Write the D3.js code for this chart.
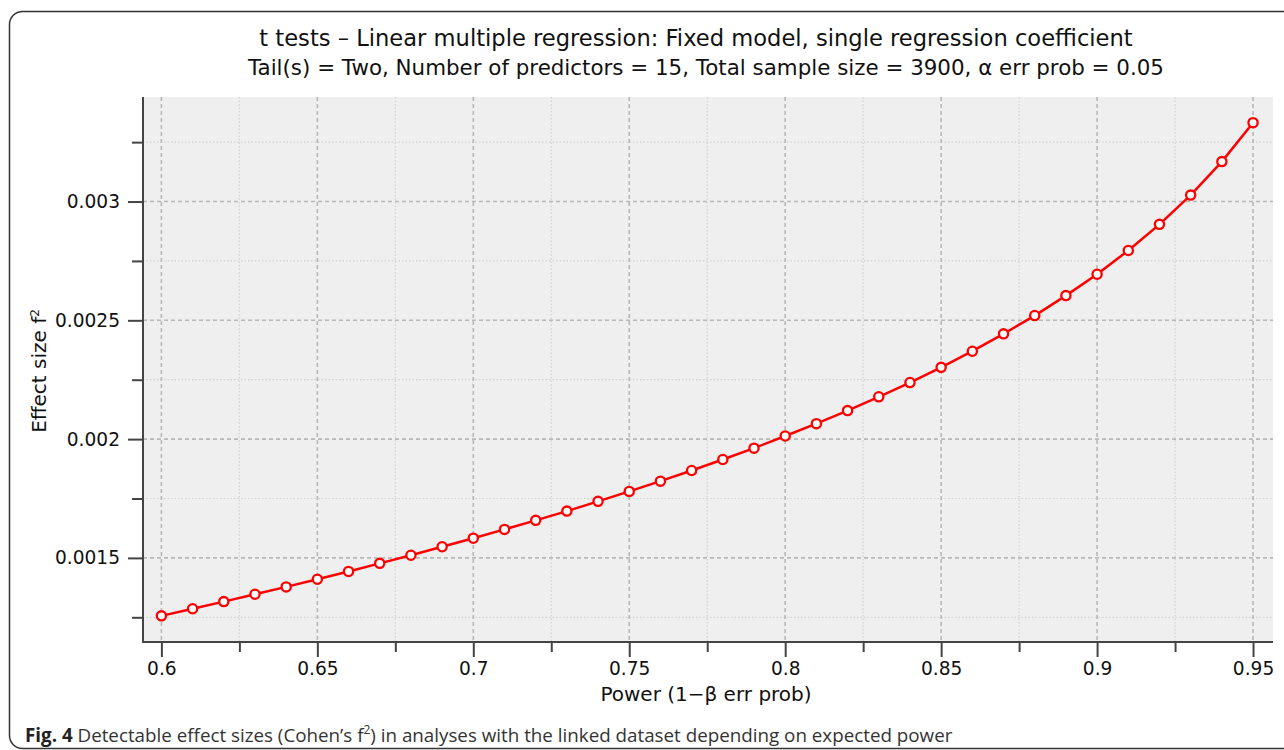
<!DOCTYPE html>
<html>
<head>
<meta charset="utf-8">
<script src="https://cdn.jsdelivr.net/npm/d3@7"></script>
<style>
  body { margin: 0; background: #fff; }
  svg { display: block; }
</style>
</head>
<body>
<svg id="chart" width="1284" height="750"></svg>
<script>
// Power values (x) and the detectable effect size f2 (y).
const power = [0.60, 0.61, 0.62, 0.63, 0.64, 0.65, 0.66, 0.67, 0.68, 0.69,
  0.70, 0.71, 0.72, 0.73, 0.74, 0.75, 0.76, 0.77, 0.78, 0.79,
  0.80, 0.81, 0.82, 0.83, 0.84, 0.85, 0.86, 0.87, 0.88, 0.89,
  0.90, 0.91, 0.92, 0.93, 0.94, 0.95];
const effectSize = [0.001256, 0.001286, 0.001316, 0.001347, 0.001378, 0.001410,
  0.001443, 0.001477, 0.001511, 0.001547, 0.001583, 0.001620, 0.001658,
  0.001697, 0.001738, 0.001780, 0.001823, 0.001868, 0.001914, 0.001962,
  0.002013, 0.002065, 0.002120, 0.002178, 0.002238, 0.002302, 0.002370,
  0.002443, 0.002520, 0.002604, 0.002694, 0.002794, 0.002904, 0.003027,
  0.003168, 0.003332];

// Axis ticks.
const xTicks = [0.6, 0.65, 0.7, 0.75, 0.8, 0.85, 0.9, 0.95];
const xTickLabels = ["0.6", "0.65", "0.7", "0.75", "0.8", "0.85", "0.9", "0.95"];
const xMinorTicks = [0.625, 0.675, 0.725, 0.775, 0.825, 0.875, 0.925];
const yTicks = [0.0015, 0.002, 0.0025, 0.003];
const yTickLabels = ["0.0015", "0.002", "0.0025", "0.003"];
const yMinorTicks = [0.00125, 0.00175, 0.00225, 0.00275, 0.00325];

const titleText = "t tests \u2013 Linear multiple regression: Fixed model, single regression coefficient";
const subtitleText = "Tail(s) = Two, Number of predictors = 15, Total sample size = 3900, \u03b1 err prob = 0.05";

(function () {
  const svg = d3.select("#chart");
  const chartFont = "'DejaVu Sans', Verdana, sans-serif";

  // Plot area.
  const left = 143, right = 1273, top = 97, bottom = 642;

  const x = d3.scaleLinear().domain([0.5941, 0.9564]).range([left, right]);
  const y = d3.scaleLinear().domain([0.001146, 0.003440]).range([bottom, top]);

  // Outer frame of the figure.
  svg.append("rect")
    .attr("x", 9.5).attr("y", 11.5)
    .attr("width", 1300).attr("height", 737)
    .attr("rx", 13)
    .attr("fill", "none")
    .attr("stroke", "#333")
    .attr("stroke-width", 1.5);

  // Titles.
  svg.append("text")
    .attr("x", 696).attr("y", 46)
    .attr("text-anchor", "middle")
    .style("font-family", chartFont)
    .style("font-size", "22.6px")
    .attr("fill", "#111")
    .text(titleText);

  svg.append("text")
    .attr("x", 706).attr("y", 75)
    .attr("text-anchor", "middle")
    .style("font-family", chartFont)
    .style("font-size", "21.4px")
    .attr("fill", "#111")
    .text(subtitleText);

  // Background.
  svg.append("rect")
    .attr("x", left).attr("y", top)
    .attr("width", right - left).attr("height", bottom - top)
    .attr("fill", "#efefef");

  // Grid lines: minor dotted, major dashed.
  const grid = svg.append("g");
  grid.selectAll(".vminor").data(xMinorTicks).enter().append("line")
    .attr("x1", (d) => x(d)).attr("x2", (d) => x(d))
    .attr("y1", top).attr("y2", bottom)
    .attr("stroke", "#d2d2d2").attr("stroke-width", 1.2)
    .attr("stroke-dasharray", "1.5,2");
  grid.selectAll(".hminor").data(yMinorTicks).enter().append("line")
    .attr("x1", left).attr("x2", right)
    .attr("y1", (d) => y(d)).attr("y2", (d) => y(d))
    .attr("stroke", "#d2d2d2").attr("stroke-width", 1.2)
    .attr("stroke-dasharray", "1.5,2");
  grid.selectAll(".vmajor").data(xTicks).enter().append("line")
    .attr("x1", (d) => x(d)).attr("x2", (d) => x(d))
    .attr("y1", top).attr("y2", bottom)
    .attr("stroke", "#b8b8b8").attr("stroke-width", 1.6)
    .attr("stroke-dasharray", "4,3");
  grid.selectAll(".hmajor").data(yTicks).enter().append("line")
    .attr("x1", left).attr("x2", right)
    .attr("y1", (d) => y(d)).attr("y2", (d) => y(d))
    .attr("stroke", "#b8b8b8").attr("stroke-width", 1.6)
    .attr("stroke-dasharray", "4,3");

  // Axes.
  const xAxis = d3.axisBottom(x)
    .tickValues(xTicks)
    .tickSize(15)
    .tickPadding(5)
    .tickFormat((d, i) => xTickLabels[i]);
  const xMinorAxis = d3.axisBottom(x)
    .tickValues(xMinorTicks)
    .tickSize(10)
    .tickFormat("");
  const yAxis = d3.axisLeft(y)
    .tickValues(yTicks)
    .tickSize(15)
    .tickPadding(8)
    .tickFormat((d, i) => yTickLabels[i]);
  const yMinorAxis = d3.axisLeft(y)
    .tickValues(yMinorTicks)
    .tickSize(11)
    .tickFormat("");

  function styleAxis(g) {
    g.select(".domain").remove();
    g.selectAll(".tick line").attr("stroke", "#444").attr("stroke-width", 2);
    g.selectAll(".tick text")
      .attr("fill", "#111")
      .style("font-family", chartFont)
      .style("font-size", "18.6px");
  }

  svg.append("g").attr("transform", `translate(0,${bottom})`).call(xMinorAxis).call(styleAxis);
  svg.append("g").attr("transform", `translate(0,${bottom})`).call(xAxis).call(styleAxis);
  svg.append("g").attr("transform", `translate(${left},0)`).call(yMinorAxis).call(styleAxis);
  svg.append("g").attr("transform", `translate(${left},0)`).call(yAxis).call(styleAxis);

  // Axis lines.
  svg.append("line")
    .attr("x1", left).attr("x2", left).attr("y1", top).attr("y2", bottom + 1)
    .attr("stroke", "#444").attr("stroke-width", 2);
  svg.append("line")
    .attr("x1", left - 1).attr("x2", right).attr("y1", bottom).attr("y2", bottom)
    .attr("stroke", "#444").attr("stroke-width", 2);

  // Axis titles.
  svg.append("text")
    .attr("x", 706).attr("y", 701)
    .attr("text-anchor", "middle")
    .style("font-family", chartFont)
    .style("font-size", "20px")
    .attr("fill", "#111")
    .text("Power (1\u2212\u03b2 err prob)");

  const yLabel = svg.append("text")
    .attr("transform", "translate(46,371) rotate(-90)")
    .attr("text-anchor", "middle")
    .style("font-family", chartFont)
    .style("font-size", "20px")
    .attr("fill", "#111");
  yLabel.append("tspan").text("Effect size f");
  yLabel.append("tspan").attr("dy", -7).style("font-size", "12px").text("2");

  // Curve and markers.
  const points = power.map((p, i) => ({ p: p, f: effectSize[i] }));
  const line = d3.line().x((d) => x(d.p)).y((d) => y(d.f));

  svg.append("path")
    .datum(points)
    .attr("d", line)
    .attr("fill", "none")
    .attr("stroke", "#ff0000")
    .attr("stroke-width", 2.5);

  svg.selectAll(".pt").data(points).enter().append("circle")
    .attr("cx", (d) => x(d.p))
    .attr("cy", (d) => y(d.f))
    .attr("r", 4.6)
    .attr("fill", "#fff")
    .attr("stroke", "#ff0000")
    .attr("stroke-width", 2.3);

  // Caption.
  const cap = svg.append("text")
    .attr("x", 25).attr("y", 742)
    .style("font-family", "'Open Sans', 'Noto Sans', sans-serif")
    .style("font-size", "18.8px")
    .attr("fill", "#333");
  cap.append("tspan").style("font-weight", "bold").attr("fill", "#222").text("Fig. 4");
  cap.append("tspan").text(" Detectable effect sizes (Cohen\u2019s f");
  cap.append("tspan").attr("dy", -8).style("font-size", "12px").text("2");
  cap.append("tspan").attr("dy", 8).text(") in analyses with the linked dataset depending on expected power");
})();
</script>
</body>
</html>
